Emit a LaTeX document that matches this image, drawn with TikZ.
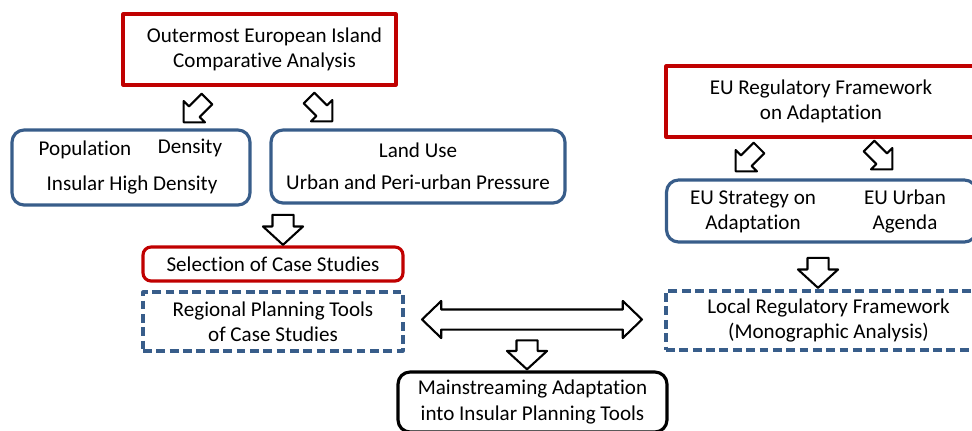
\documentclass[tikz,border=0pt]{standalone}
\usepackage{fontspec}
\setmainfont{Carlito}[RawFeature=-liga]
\usepackage{tikz}
\usetikzlibrary{shapes.arrows}
\definecolor{boxred}{RGB}{192,0,0}
\definecolor{boxblue}{RGB}{56,93,138}
\tikzstyle{every node}=[font=\fontsize{12}{14.4}\selectfont]
\tikzstyle{redbox}=[draw=boxred,line width=1.8pt,align=center,inner sep=0pt]
\tikzstyle{bluebox}=[draw=boxblue,line width=1.8pt,rounded corners=0.24cm,align=center,inner sep=0pt]
\tikzstyle{dashbox}=[draw=boxblue,line width=1.8pt,dash pattern=on 5pt off 2.6pt,align=center,inner sep=0pt]
\tikzstyle{downarrow}=[single arrow,draw,line width=1.2pt,fill=white,inner xsep=0pt,inner ysep=0.19cm,single arrow head extend=0.19cm,single arrow tip angle=95,minimum height=0.6cm,minimum width=0.76cm,rotate=-90]
\tikzstyle{tiltarrow}=[single arrow,draw,line width=1.2pt,fill=white,inner xsep=0pt,inner ysep=0.13cm,single arrow head extend=0.15cm,single arrow tip angle=90,minimum height=0.66cm,minimum width=0.56cm]

\begin{document}
\begin{tikzpicture}[line join=round,x=0.02cm,y=-0.02cm]
            \useasboundingbox (0,0) rectangle (972,430);
            % left column
            \node[redbox,minimum width=5.46cm,minimum height=1.42cm] (outer) at (259.5,49.5) {\hspace{0.2cm}Outermost European Island\\\hspace{0.2cm}Comparative Analysis};
            \node[bluebox,minimum width=4.76cm,minimum height=1.5cm] (popul) at (131,167.5) {};
            \node (poptxt) at (85,150) {Population};
            \node (dentxt) at (190,148) {Density};
            \node (instxt) at (132,185) {Insular High Density};
            \node[bluebox,minimum width=5.88cm,minimum height=1.46cm] (landuse) at (418,166.5) {Land Use\\[4pt]Urban and Peri-urban Pressure};
            \node[bluebox,draw=boxred,rounded corners=0.16cm,minimum width=5.2cm,minimum height=0.68cm] (select) at (273,264) {Selection of Case Studies};
            \node[dashbox,minimum width=5.2cm,minimum height=1.18cm] (regional) at (273,321.5) {Regional Planning Tools\\of Case Studies};
            \node[bluebox,draw=black,minimum width=5.38cm,minimum height=1.2cm] (mainstr) at (532.5,402) {Mainstreaming Adaptation\\into Insular Planning Tools};
            % right column
            \node[redbox,minimum width=6.2cm,minimum height=1.42cm] (euframe) at (821,101.5) {EU Regulatory Framework\\on Adaptation};
            \node[bluebox,minimum width=6.2cm,minimum height=1.24cm] (eustrat) at (821.5,211) {};
            \node[align=center] (strtxt) at (753,211.5) {EU Strategy on\\Adaptation};
            \node[align=center] (urbtxt) at (905,211.5) {EU Urban\\Agenda};
            \node[dashbox,minimum width=6.2cm,minimum height=1.18cm] (local) at (821,320.5) {\hspace{0.3cm}Local Regulatory Framework\\\hspace{0.3cm}(Monographic Analysis)};
            % block arrows
            \node[tiltarrow,rotate=-135] (a1) at (198,108) {};
            \node[tiltarrow,rotate=-45] (a2) at (318,107) {};
            \node[downarrow] (a3) at (283,225) {};
            \node[tiltarrow,rotate=-135] (a4) at (750,157) {};
            \node[tiltarrow,rotate=-45] (a5) at (878,155) {};
            \node[downarrow] (a6) at (818,268) {};
            \node[double arrow,draw,line width=1.2pt,fill=white,inner xsep=0pt,inner ysep=0.18cm,double arrow head extend=0.17cm,double arrow tip angle=88,minimum height=4.4cm,minimum width=0.7cm] (a7) at (532,319.5) {};
            \node[downarrow,minimum width=0.74cm,minimum height=0.58cm] (a8) at (527,350) {};
        \end{tikzpicture}
\end{document}
